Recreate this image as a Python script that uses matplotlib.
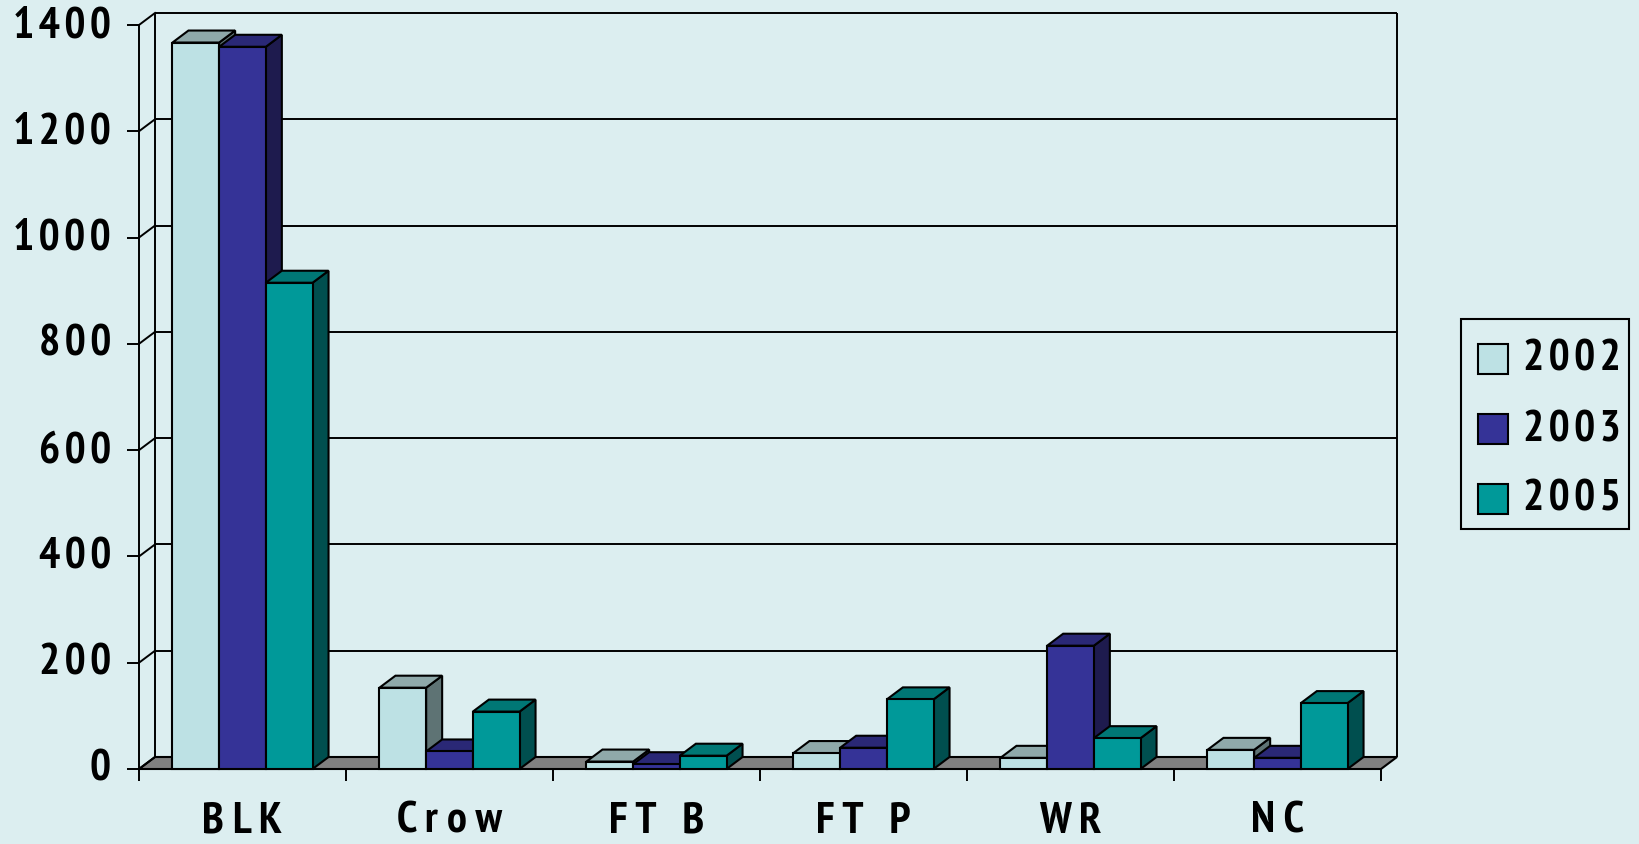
import numpy as np
import matplotlib
matplotlib.use("Agg")
import matplotlib.pyplot as plt
from matplotlib.patches import Polygon, Rectangle

HS = "\u200a"  # hair space, the reference spreads its digits apart

# data
categories = ["B L K", "C r o w", "F T   B", "F T   P", "W R", "N C"]
years = ["2002", "2003", "2005"]
v2002 = [1367, 153, 14, 30, 21, 36]
v2003 = [1359, 33, 9, 40, 232, 21]
v2005 = [915, 108, 25, 131, 58, 124]
yticks = [0, 200, 400, 600, 800, 1000, 1200, 1400]


def spread(s):
    return HS.join(s)


# colours: front / top / side face of each series
front = ["#BDE1E4", "#353397", "#009999"]
top = ["#8FA9AA", "#2A2876", "#007775"]
side = ["#5E7374", "#1E1B4E", "#004F4F"]
BG = "#DCEEF0"
FLOOR = "#808080"

families = ["PT Sans Narrow", "Archivo Narrow", "DejaVu Sans"]
numfont = dict(family=families, weight="bold", size=32)
catfont = dict(family=families, weight="bold", size=32)

W, H = 1639, 845
fig = plt.figure(figsize=(W / 100, H / 100), dpi=100, facecolor=BG)
ax = fig.add_axes([0, 0, 1, 1])
ax.set_facecolor(BG)
ax.axis("off")

# plot box in pixels -> data limits
ncat = len(categories)
ymax = yticks[-1]
x0px, x1px = 139, 1381
y0px, ytop = 770, 26
sx = (x1px - x0px) / ncat
sy = (y0px - ytop) / ymax
ax.set_xlim(-x0px / sx, (W - x0px) / sx)
ax.set_ylim(-(H - y0px) / sy, y0px / sy)
dx, dy = 16 / sx, 12 / sy   # depth offset
lw = 1.5

# floor
ax.add_patch(Polygon([(0, 0), (ncat, 0), (ncat + dx, dy), (dx, dy)],
                     fc=FLOOR, ec="black", lw=lw, zorder=1))

# back wall, gridlines, y axis
ax.hlines(np.array(yticks[1:]) + dy, dx, ncat + dx, color="black", lw=1.4, zorder=1.5)
ax.vlines([dx, ncat + dx], dy, ymax + dy, color="black", lw=1.4, zorder=1.5)
ax.vlines(0, 0, ymax, color="black", lw=1.4, zorder=1.5)
for v in yticks:
    ax.plot([0, dx], [v, v + dy], color="black", lw=1.4, zorder=1.5)
ax.hlines(yticks, -12 / sx, 0, color="black", lw=1.4, zorder=1.5)
ax.vlines(np.arange(ncat + 1), -12 / sy, 0, color="black", lw=1.4, zorder=1.5)

for v in yticks:
    ax.text(-28 / sx, v, spread(str(v)), ha="right", va="center", fontdict=numfont)

# bars
width = 0.2256
xc = np.arange(ncat) + 0.5
for k, vals in enumerate([v2002, v2003, v2005]):
    z = 3 + k
    lefts = xc + (k - 1.5) * width
    for left, v in zip(lefts, vals):
        right = left + width
        ax.add_patch(Polygon([(right, 0), (right + dx, dy), (right + dx, v + dy), (right, v)],
                             fc=side[k], ec="black", lw=lw, zorder=z))
        ax.add_patch(Polygon([(left, v), (left + dx, v + dy), (right + dx, v + dy), (right, v)],
                             fc=top[k], ec="black", lw=lw, zorder=z))
    ax.bar(lefts, vals, width, align="edge", color=front[k], edgecolor="black", lw=lw, zorder=z)

for x, lab in zip(xc, categories):
    ax.text(x, -52 / sy, lab, ha="center", va="center", fontdict=catfont)

# legend
fig.add_artist(Rectangle((1461 / W, 1 - 530 / H), 168 / W, 210 / H, transform=fig.transFigure,
                         fc=BG, ec="black", lw=1.5))
for k, lab in enumerate(years):
    yc = 360 + 70 * k
    fig.add_artist(Rectangle((1478 / W, 1 - (yc + 15) / H), 30 / W, 30 / H, transform=fig.transFigure,
                             fc=front[k], ec="black", lw=1.5))
    fig.text(1523 / W, 1 - yc / H, spread(lab), ha="left", va="center", fontdict=numfont)

fig.savefig("out.png", dpi=100, facecolor=BG)
